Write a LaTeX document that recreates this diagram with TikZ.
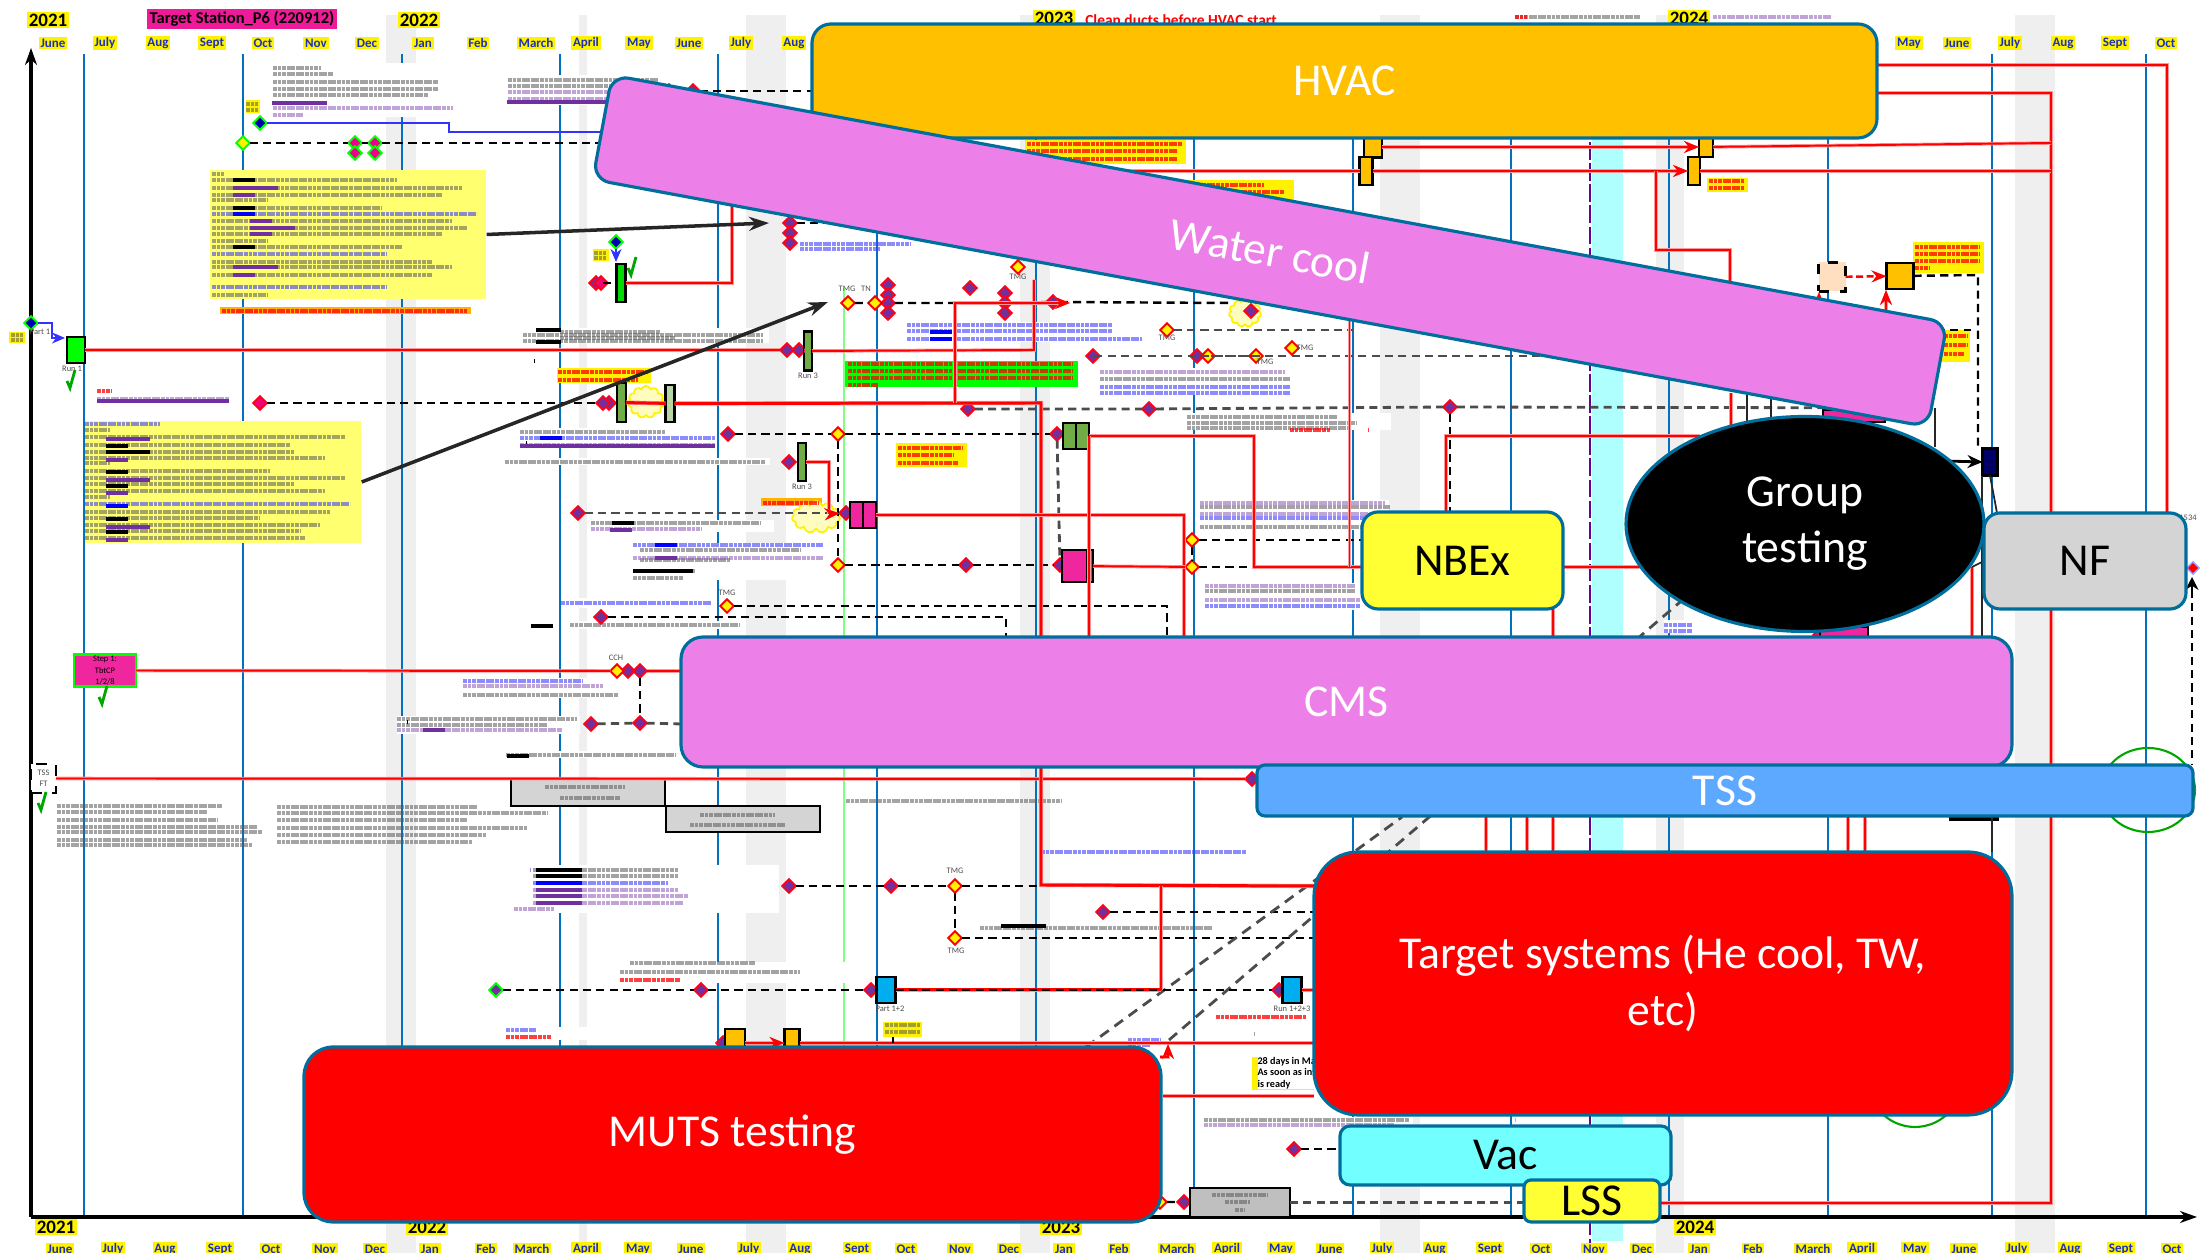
\documentclass[tikz,border=0pt]{standalone}
\usepackage{fontspec}
\setmainfont{Carlito}
\usetikzlibrary{arrows.meta,shapes.geometric,shapes.symbols}
\pgfdeclarelayer{front}
\pgfsetlayers{main,front}
\definecolor{boxline}{HTML}{006E9C}
\definecolor{boxviolet}{HTML}{EC80E8}
\definecolor{boxgold}{HTML}{FFC000}
\definecolor{boxblue}{HTML}{5DA9FF}
\definecolor{boxcyan}{HTML}{72FFFF}
\definecolor{boxyellow}{HTML}{FFFF33}
\definecolor{boxgray}{HTML}{D4D4D4}
\definecolor{bandgray}{HTML}{EFEFEF}
\definecolor{bandcyan}{HTML}{B0FFFF}
\definecolor{gridblue}{HTML}{0070C0}
\definecolor{monthblue}{HTML}{1A2FC0}
\definecolor{barpurple}{HTML}{7030A0}
\definecolor{notepale}{HTML}{FFFF70}
\definecolor{olive}{HTML}{70AD47}
\tikzset{
  bigbox/.style={draw=boxline,line width=.9pt,inner sep=0pt,outer sep=0pt,align=center,font=\fontsize{13}{16}\selectfont},
  monthlab/.style={fill=yellow,text=monthblue,inner sep=.5pt,font=\fontsize{3.7}{4}\selectfont\bfseries},
  yearlab/.style={fill=yellow,inner sep=.6pt,font=\fontsize{5.4}{6}\selectfont\bfseries},
  tinylab/.style={inner sep=0pt,text=black!70,align=center,font=\fontsize{2.4}{3.2}\selectfont},
  ms/.style={diamond,minimum size=1.35mm,inner sep=0pt,outer sep=0pt,line width=.55pt},
  msp/.style={ms,draw=red!90!magenta,fill=barpurple},
  msy/.style={ms,draw=red,fill=yellow},
  msk/.style={ms,draw=red!90!magenta,fill=magenta!80!red},
  msb/.style={ms,draw=green,fill=blue!70!black},
  msg/.style={ms,draw=green,fill=magenta},
  msn/.style={ms,draw=green,fill=yellow},
  msv/.style={ms,draw=green,fill=barpurple},
  chip/.style={draw=black,line width=.7pt,inner sep=0pt,outer sep=0pt},
  dashline/.style={black,line width=.7pt,dash pattern=on 2.3pt off 1.5pt},
  dashgray/.style={black!70,line width=.8pt,dash pattern=on 2.3pt off 1.5pt},
  dashthin/.style={black,line width=.45pt,dash pattern=on 2.3pt off 1.5pt},
  redline/.style={red,line width=.55pt,preaction={draw,red!40,line width=1pt}},
  redthick/.style={red,line width=.85pt,preaction={draw,red!40,line width=1.2pt}},
  blueline/.style={blue!80,line width=.7pt},
  blackline/.style={black!85,line width=.5pt},
  longarrow/.style={black!85,line width=1pt,-{Stealth[length=2mm,width=1.4mm]}},
  redtip/.style={-{Stealth[length=1.5mm,width=1.2mm]}},
  gridline/.style={gridblue,line width=.45pt},
  axisline/.style={black,line width=1pt,-{Stealth[length=1.7mm,width=1.2mm]}},
  blobgray/.style={black!65,opacity=.55,line width=.9pt,dash pattern=on 1.1pt off .2pt},
  blobblue/.style={blue!75!white,opacity=.6,line width=.9pt,dash pattern=on 1.1pt off .2pt},
  blobpurple/.style={barpurple!80!white,opacity=.55,line width=.9pt,dash pattern=on 1.1pt off .2pt},
  blobred/.style={red,opacity=.75,line width=.9pt,dash pattern=on 1.1pt off .2pt},
  tickmark/.style={green!65!black,line width=.8pt},
  pale/.style={draw=yellow,fill=yellow!25,cloud,cloud puffs=11,inner sep=0pt,line width=.5pt}
}
\begin{document}
\begin{tikzpicture}[x=0.1mm,y=-0.1mm]
\useasboundingbox (0,0) rectangle (2202,1253);
\begin{pgfonlayer}{front}
  \node[bigbox,fill=boxgold,text=white,rounded corners=1.9mm,minimum width=106.5mm,minimum height=11.4mm] (hvac) at (1344.5,81) {HVAC};
  \node[bigbox,fill=boxviolet,text=white,rounded corners=1.7mm,rotate=-10.5,minimum width=135.8mm,minimum height=10.6mm] (watercool) at (1270,251) {Water cool};
  \node[bigbox,ellipse,fill=black,text=white,minimum width=35.8mm,minimum height=21.5mm] (grouptest) at (1805,524) {Group\\testing};
  \node[bigbox,fill=boxgray,rounded corners=1.6mm,minimum width=20.2mm,minimum height=9.6mm] (nf) at (2085,561) {NF};
  \node[bigbox,fill=boxyellow,rounded corners=1.6mm,minimum width=20.1mm,minimum height=9.7mm] (nbex) at (1462.5,560.5) {NBEx};
  \node[bigbox,fill=boxviolet,text=white,rounded corners=2.2mm,minimum width=133.1mm,minimum height=13mm] (cms) at (1346.5,702) {CMS};
  \node[bigbox,fill=boxblue,text=white,rounded corners=.8mm,minimum width=93.6mm,minimum height=5.1mm] (tss) at (1725,790.5) {TSS};
  \node[bigbox,fill=red,text=white,rounded corners=4.4mm,minimum width=69.8mm,minimum height=26.3mm] (targetsys) at (1663,983.5) {Target systems (He cool, TW,\\etc)};
  \node[bigbox,fill=red,text=white,rounded corners=2.9mm,minimum width=85.7mm,minimum height=17.5mm] (muts) at (732.5,1134.5) {MUTS testing};
  \node[bigbox,fill=boxcyan,rounded corners=1mm,minimum width=33.1mm,minimum height=5.9mm] (vac) at (1505.5,1155.5) {Vac};
  \node[bigbox,fill=boxyellow,rounded corners=.7mm,minimum width=13.6mm,minimum height=4.2mm] (lss) at (1592,1201) {LSS};
\end{pgfonlayer}
\foreach \x/\w in {386/30,579/8,746/40,1020/30,1380/40,1656/28,2015/40}
  \fill[bandgray] (\x,15) rectangle ++(\w,1238);
\fill[bandcyan] (1592,100) rectangle (1623,1241);
\foreach \x in {84,243,402,560,718,877,1036,1194,1353,1511,1669,1828,1992,2146}
  \draw[gridline] (\x,54) -- (\x,1217);
\draw[green!50,line width=.8pt] (844,288) -- (844,1047);
\draw[violet!80!blue,line width=.8pt,dash pattern=on 5pt off 1pt] (1590,100) -- (1590,1246);
\foreach \m/\x in {June/53,July/105,Aug/158,Sept/212,Oct/263,Nov/316,Dec/367,Jan/423,Feb/478,March/536,April/586,May/639,June/689,July/741,Aug/794,May/1909,June/1957,July/2010,Aug/2063,Sept/2115,Oct/2166}
  \node[monthlab] (top\x) at (\x,43) {\m};
\foreach \m/\x in {June/60,July/113,Aug/165,Sept/220,Oct/271,Nov/325,Dec/375,Jan/430,Feb/486,March/532,April/586,May/638,June/691,July/749,Aug/800,Sept/857,Oct/906,Nov/960,Dec/1009,Jan/1064,Feb/1119,March/1177,April/1227,May/1281,June/1330,July/1382,Aug/1435,Sept/1490,Oct/1541,Nov/1594,Dec/1642,Jan/1699,Feb/1753,March/1813,April/1862,May/1915,June/1964,July/2017,Aug/2070,Sept/2121,Oct/2172}
  \node[monthlab] (bot\x) at (\x,1249) {\m};
\foreach \y/\x/\v in {t21/48/20,t22/419/20,t23/1054/18,t24/1689/18,b21/56/1227,b22/427/1227,b23/1061/1227,b24/1695/1227}
  \node[yearlab] (year\y) at (\x,\v) {20\ifnum\v<100 \ifnum\x<100 21\else\ifnum\x<500 22\else\ifnum\x<1500 23\else 24\fi\fi\fi\else\ifnum\x<100 21\else\ifnum\x<500 22\else\ifnum\x<1500 23\else 24\fi\fi\fi\fi};
\node[fill=magenta!90!white,inner sep=.8pt,font=\fontsize{4.7}{5}\selectfont\bfseries] (title) at (242,19) {Target Station\_P6 (220912)};
\node[text=red,inner sep=0pt,font=\fontsize{4.4}{5}\selectfont\bfseries] (cleanducts) at (1181,20) {Clean ducts before HVAC start};
\coordinate (origin) at (31,1217);
\coordinate (ytop) at (31,48);
\coordinate (xend) at (2197,1217);
\draw[axisline] (origin) -- (ytop);
\draw[axisline] (origin) -- (xend);
\draw[green!65!black,line width=.6pt] (2148,790) ellipse (47 and 42);
\draw[green!65!black,line width=.6pt] (1915,1080) ellipse (47 and 47);
\foreach \a/\b/\c/\d in {272/63/462/117,507/75/664/105,520/328/769/343,520/428/711/448,505/458/770/465,591/520/774/532,633/543/828/580,561/598/714/608,570/621/743/629,463/678/622/698,397/716/580/734,506/751/680/758,907/322/1151/342,1100/368/1297/395,1187/413/1391/430,1200/500/1389/530,1205/583/1363/610,514/865/779/913,620/962/850/983,506/1027/717/1040,1204/1117/1413/1128,1664/620/1693/633}
  \fill[white] (\a,\b) rectangle (\c,\d);
\node[fill=notepale,minimum width=27.6mm,minimum height=12.9mm,inner sep=0pt] (noteyone) at (348,234.5) {};
\node[fill=notepale,minimum width=27.6mm,minimum height=12.2mm,inner sep=0pt] (noteytwo) at (223,482) {};
\foreach \n/\x/\y/\w/\h in {ytaga/253/106.5/1.4/1.3,ytagb/601/255/1.6/1.2,ytagc/17/337.5/1.6/1.1,ytagd/604/375.5/9.4/1.5,ytage/931.5/455/7.1/2.4,ytagf/902.5/1029.5/3.9/1.5,ytagg/1283/1073.5/6.2/3.3,ytagh/1105.5/152/16.1/2.4,ytagi/1238/193.5/11.2/2.7,ytagj/1727.5/185/4.1/1.4,ytagk/1948.5/257.5/7.1/3.1,ytagl/1956/346/2.8/3.2}
  \node[fill=yellow,minimum width=\w mm,minimum height=\h mm,inner sep=0pt] (\n) at (\x,\y) {};
\node[fill=orange!60!yellow,minimum width=25.1mm,minimum height=.7mm,inner sep=0pt] (ytagm) at (345.5,311) {};
\node[fill=orange!60!yellow,minimum width=6.1mm,minimum height=.8mm,inner sep=0pt] (ytagn) at (791.5,502.5) {};
\node[fill=green,minimum width=23.3mm,minimum height=2.6mm,inner sep=0pt] (notegreen) at (961.5,374) {};
\node[pale,minimum width=3.6mm,minimum height=3.2mm] (cloudone) at (646,402) {};
\node[pale,minimum width=4.8mm,minimum height=3.2mm] (cloudtwo) at (816,517) {};
\node[pale,minimum width=3.2mm,minimum height=2.8mm] (cloudthree) at (1245,313) {};
\foreach \x/\y/\w in {273/68/48,273/74/60,273/82/165,273/89/165,273/95/155,508/80/150,508/86/120,523/335/240,523/341/240,520/432/145,505/462/260,591/523/170,640/550/160,640/560/90,633/571/62,633/578/50,570/625/170,463/695/155,397/719/180,397/725/150,506/755/170,57/806/165,57/812/150,57/820/160,57/827/200,57/832/205,57/840/190,57/845/195,277/807/200,277/813/270,277/820/190,277/828/250,277/835/210,277/842/195,846/801/215,1100/379/190,1187/417/150,1187/423/170,1187/428/160,1200/507/190,1200/527/185,1205/591/150,533/870/145,533/876/145,980/928/232,630/963/125,620/972/180,1204/1120/205,2000/600/1,1515/17/125,560/332/100,560/338/115}
  \draw[blobgray] (\x,\y) -- ++(\w,0);
\foreach \x/\y/\w in {212/174/12,212/180/185,212/188/250,212/195/230,212/200/55,212/208/170,212/221/240,212/228/255,212/234/230,212/241/55,212/247/190,212/262/220,212/267/240,212/275/220,212/295/55,85/430/25,85/437/260,85/445/205,85/452/210,85/458/240,85/463/25,85/471/185,85/478/260,85/484/210,85/491/240,85/497/25,85/512/245,85/518/175,85/525/235,85/531/215,85/538/220,246/104/12,246/110/12,594/253/12,594/258/12,11/335/12,11/340/12,1254/1034/1,545/787/80,560/798/60,700/815/75,690/825/95,1212/1195/55,1225/1202/25,1235/1210/10,885/1025/35,885/1032/35}
  \draw[blobgray] (\x,\y) -- ++(\w,0);
\foreach \x/\y/\w in {212/214/265,212/254/175,212/287/175,85/424/75,85/504/265,520/438/195,633/545/190,561/603/150,463/681/120,907/325/205,907/331/205,907/339/235,1100/387/190,1100/393/190,1200/518/180,1205/606/155,1041/852/205,1128/1040/33,1128/1045/22,530/870/1,533/883/135,1664/625/28,1664/631/28,506/1030/30,800/244/110,800/249/80}
  \draw[blobblue] (\x,\y) -- ++(\w,0);
\foreach \x/\y/\w in {273/108/180,273/115/30,508/92/100,508/99/100,97/399/132,520/445/195,591/529/110,633/558/190,463/686/140,397/730/165,1100/372/185,1200/503/185,1200/514/170,1205/586/150,1205/600/155,533/890/145,533/896/155,533/903/150,514/909/40,1515/1120/1,1713/17/118,1204/1125/190}
  \draw[blobpurple] (\x,\y) -- ++(\w,0);
\foreach \x/\y/\w in {97/391/15,222/311/245,558/372/90,558/380/80,898/448/65,898/455/55,898/463/60,763/503/55,1027/144/155,1027/151/150,1027/159/150,1184/185/80,1184/192/100,1184/200/100,1709/181/35,1709/188/35,1915/247/65,1915/254/65,1915/261/65,1915/268/15,1944/336/24,1944/345/24,1944/354/20,848/364/225,848/371/225,848/378/225,848/385/30,620/980/60,506/1037/45,1216/1017/90,1515/17/12,1368/430/1,1290/430/40}
  \draw[blobred] (\x,\y) -- ++(\w,0);
\foreach \x/\y/\w in {233/180/22,233/208/22,233/247/22,106/446/22,106/452/44,106/472/22,106/486/22,106/519/22,106/532/22,536/330/25,536/342/25,534/361/1,536/870/46,536/876/46,526/443/1,1001/926/45,1114/1118/25,612/523/22,633/571/60,507/756/22,531/626/22,407/722/1}
  \draw[black,line width=1.3pt] (\x,\y) -- ++(\w,0);
\foreach \x/\y/\w in {272/103/55,507/102/190,97/401/132,233/188/45,233/195/22,250/221/22,250/228/45,250/234/22,233/267/45,233/275/22,106/439/44,106/460/22,106/480/44,106/493/22,106/527/44,106/540/22,520/446/195,610/530/22,655/558/22,423/730/22,536/890/46,536/896/46,536/903/46,1134/1126/25}
  \draw[barpurple,line width=1.3pt] (\x,\y) -- ++(\w,0);
\foreach \x/\y/\w in {233/214/22,106/506/22,540/438/22,655/545/22,930/332/22,930/339/22,536/883/46}
  \draw[blue,line width=1.3pt] (\x,\y) -- ++(\w,0);
\foreach \n/\x/\y in {aone/693/91,bone/790/223,btwo/790/233,bthree/790/243,cone/596/283,done/787/350,dtwo/799/350,eone/609/403,etwo/603/403,fone/728/434,gone/789/462,hone/578/513,htwo/846/513,ione/1053/302,itwo/888/285,ithree/888/295,ifour/888/303,ifive/888/313,isix/970/288,iseven/1005/293,ieight/1005/303,inine/1005/313,jone/968/409,jtwo/1149/409,jthree/1450/407,kone/1093/356,ktwo/1197/356,lone/966/565,ltwo/1060/565,lthree/1057/434,mone/601/617,ntwo/628/671,nthree/640/671,nfour/640/723,nfive/591/724,oone/1252/779,pone/789/886,ptwo/891/886,pthree/1103/912,qone/701/990,qtwo/871/990,qthree/1279/990,rone/723/1043,sone/1294/1149,stwo/1184/1202,wone/1251/311}
  \node[msp] (\n) at (\x,\y) {};
\foreach \n/\x/\y in {yone/848/303,ytwo/875/303,ythree/1018/267,yfour/1167/330,yfive/1208/356,ysix/1256/356,yseven/1292/348,yeight/838/434,ynine/838/565,yten/1192/540,yeleven/1192/567,ytwelve/727/606,ythirteen/617/671,yfourteen/955/886,yfifteen/955/938,ysixteen/1160/1202}
  \node[msy] (\n) at (\x,\y) {};
\node[msk] (atwo) at (669,91) {};
\node[msk] (kone) at (260,403) {};
\node[msk] (pinkb) at (601,283) {};
\node[msb] (blueone) at (260,123) {};
\node[msb] (bluetwo) at (616,242) {};
\node[msb] (bluethree) at (31,323) {};
\node[msn] (lineone) at (243,143) {};
\node[msg] (gmone) at (355,143) {};
\node[msg] (gmtwo) at (355,153) {};
\node[msg] (gmthree) at (375,143) {};
\node[msg] (gmfour) at (375,153) {};
\node[msv] (partstart) at (496,990) {};
\node[red,fill=red,diamond,minimum size=1.3mm,inner sep=0pt,draw=blue!40] (nfmark) at (2193,568) {};
\node[msk] (jfour) at (1820,635) {};
\foreach \n/\c/\x/\y/\w/\h in {runone/green/76/350/1.8/2.6,barone/green!85!black/621/283/.9/3.8,barthree/olive/808/351/.8/3.9,bartwo/olive/621.5/402.5/.9/3.9,barfour/olive!50/670/403.5/.9/3.7,barfive/olive/802/462/.8/3.8,olivebox/olive/1076/436/2.6/2.6,magone/magenta!85/863/515/2.6/2.6,magtwo/magenta!85/1077.5/566/3.1/3.2,tealone/cyan/886/990/1.9/2.6,tealtwo/cyan/1292/990/1.9/2.6,amone/boxgold/735/1038/2/1.8,amtwo/boxgold/792/1038/1.5/1.8,amthree/boxgold/1373/147/1.8/2.1,amfour/boxgold/1366/171/1.3/2.8,amfive/boxgold/1706/147/1.4/2/,amsix/boxgold/1694/171/1.2/2.8,amseven/boxgold/1900/276/2.7/2.6,magthree/magenta!85/1854/416/6.2/1.2,magfour/magenta!85/1844/632/4.8/1,navybox/blue!40!black/1990/462/1.5/2.7,blackbit/white/1974/818/4.8/.3,tealbit/cyan/1326/212/1.7/.5}
  \node[chip,fill=\c,minimum width=\w mm,minimum height=\h mm] (\n) at (\x,\y) {};
\draw[chip] (olivebox.north) -- (olivebox.south);
\draw[chip] (magone.north) -- (magone.south);
\draw[chip] ([xshift=1mm]magtwo.north) -- ([xshift=1mm]magtwo.south);
\node[chip,fill=orange!25,dashed,minimum width=2.7mm,minimum height=2.9mm] (beige) at (1832,277) {};
\node[chip,draw=green,fill=magenta!85,minimum width=6.2mm,minimum height=3.2mm,tinylab,text=black] (stepone) at (105,670.5) {Step 1:\\TbtCP\\1/2/8};
\node[chip,dashed,fill=white,minimum width=2.5mm,minimum height=2.9mm,tinylab] (tssft) at (43.5,778.5) {TSS\\FT};
\node[chip,fill=boxgray,minimum width=15.4mm,minimum height=2.7mm] (grayone) at (588,792.5) {};
\node[chip,fill=boxgray,minimum width=15.4mm,minimum height=2.6mm] (graytwo) at (743,819) {};
\node[chip,fill=black!25,minimum width=10mm,minimum height=2.9mm] (graythree) at (1240,1202.5) {};
\foreach \x/\y/\w in {545/787/80,560/798/60,700/815/75,690/825/95,1212/1195/55,1225/1202/25,1235/1210/10}
  \draw[blobgray] (\x,\y) -- ++(\w,0);
\foreach \n/\x/\y/\t in {lrunone/72/369/Run 1,lpartone/40/332/Part 1,lrunthree/808/376/Run 3,lrunfour/802/487/Run 3,ltmga/847/289/TMG,ltn/866/289/TN,ltmgb/727/593/TMG,lcch/616/658/CCH,ltmgc/955/871/TMG,ltmgd/956/951/TMG,lparttwo/890/1009/Part 1+2,lrunsix/1292/1009/Run 1+2+3,ltmge/1167/338/TMG,ltmgf/1305/348/TMG,ltmgg/1265/362/TMG,ltmgh/1018/277/TMG,lnf/2188/518/1534}
  \node[tinylab] (\n) at (\x,\y) {\t};
\foreach \x/\y in {71/379,103/695,42/801,632/266}
  \draw[tickmark] (\x-4,\y+2) -- (\x-1,\y+9) -- (\x+4,\y-9);
\foreach \n/\x/\y in {cblue/640/132,cdash/640/143,cbdash/900/223,cdashr/812/91,cup/1034/280,cupb/732/190,carrow/1070/303,cdashc/1230/303,cgray/1353/330,cgrayb/1540/356,cj/1935/408,cjb/1935/447,cmsa/1041/637,cmsb/1184/637,cmsc/1089/637,cmsd/1167/637,cmse/1006/637,cnba/1362/567,cnbb/1362/540,cnbc/1450/512,ctriga/1314/886,ctrigb/1314/912,ctrigc/1314/938,ctrigd/1314/1043,ctrige/1314/1096,ctrigf/1314/990,cmid/1161/886,cyone/769/223,cytwo/828/302,chua/1877/65,chub/1877/93,clow/1100/171,cmsf/682/724,cmsg/682/671,cmsh/1252/779}
  \coordinate (\n) at (\x,\y);
\draw[blueline] (blueone) -- (449,123) -- (449,132) -- (cblue);
\draw[blueline,-{Stealth[length=1.3mm,width=1.1mm]}] (bluethree) -- (52,323) -- (52,338) -- (65,338);
\draw[blueline,-{Stealth[length=1.3mm,width=1.1mm]}] (bluetwo) -- (616,262);
\draw[dashline] (lineone) -- (gmone) -- (gmthree) -- (cdash);
\draw[dashline] (atwo) -- (aone) -- (cdashr);
\draw[dashline] (bone) -- (cbdash);
\draw[dashline] (kone) -- (etwo);
\draw[dashline] (cone) -- (barone);
\draw[dashline] (yone) -- (ytwo) -- (ifour) -- (ieight) -- (ione) -- (cdashc);
\draw[dashgray] (yfour) -- (cgray);
\draw[dashline] (kone |- kone) -- (kone);
\draw[dashgray] (cgrayb) -- (ktwo) -- (yfive) -- (ysix) -- (1093,356);
\draw[dashgray] (jone) -- (jtwo) -- (jthree) -- (cj);
\draw[blackline] (cj) -- (cjb);
\draw[dashthin] (jthree) -- (cnbc);
\draw[dashline] (fone) -- (yeight) -- (lthree);
\draw[dashline] (yeight) -- (ynine) -- (lone) -- (ltwo);
\draw[dashgray] (lthree) -- (ltwo);
\draw[dashgray] (hone) -- (htwo);
\draw[dashline] (yten) -- (cnbb);
\draw[dashline] (yeleven) -- (cnba);
\draw[dashthin] (yten) -- (yeleven);
\draw[dashline] (ytwelve) -- (1167,606) -- (cmsd);
\draw[dashline] (mone) -- (1006,617) -- (cmse);
\draw[dashthin] (nthree) -- (nfour);
\draw[dashgray] (nfive) -- (nfour) -- (cmsf);
\draw[dashline] (pone) -- (ptwo) -- (yfourteen) -- (ctriga);
\draw[dashthin] (yfourteen) -- (yfifteen);
\draw[dashline] (yfifteen) -- (ctrigc);
\draw[dashline] (pthree) -- (ctrigb);
\draw[dashline] (partstart) -- (qone) -- (qtwo);
\draw[dashgray,dash pattern=on 3pt off 2pt] (1086,1047) -- (1402,817);
\draw[dashgray,dash pattern=on 3pt off 2pt] (1169,1040) -- (1700,585);
\draw[dashline] (sone) -- (sone -| vac.west);
\draw[dashline] (ysixteen) -- (stwo) -- (graythree);
\draw[dashgray] (graythree) -- (graythree -| lss.west);
\draw[dashline] (amseven) -- (1978,275) -- (1978,448);
\draw[dashline] (1937,330) -- (1971,330);
\draw[dashline] (2192,590) -- (2192,765);
\draw[red,dash pattern=on 2pt off 1pt,line width=.7pt,redtip] (beige) -- (amseven);
\draw[redline] (runone) -- (done);
\draw[redline] (dtwo) -- (barthree);
\draw[redline] (barthree) -- (1034,350) -- (cup);
\draw[redline] (barone) -- (732,283) -- (cupb);
\draw[redthick] (bartwo) -- (barfour) -- (1041,403) -- (cmsa);
\draw[redline,redtip] (955,403) -- (955,303) -- (carrow);
\draw[redline] (barfive) -- (829,462) -- (829,514);
\draw[redline,redtip] (829,514) -- (htwo);
\draw[redline] (magone) -- (1184,515) -- (cmsb);
\draw[redline] (olivebox) -- (1254,436) -- (1254,567) -- (cnba);
\draw[redline] (1089,436) -- (cmsc);
\draw[redline] (magtwo) -- (yeleven);
\draw[redline] (1349.5,320) -- (1349.5,567);
\draw[redline] (1446,512) -- (1446,436) -- (1700,436);
\draw[redline] (1563,567) -- (1640,567);
\draw[redline] (1553,609) -- (1553,637);
\draw[redline] (1972,567) -- (1972,637);
\draw[redline] (chua) -- (2167,65) -- (2167,513);
\draw[redline] (chub) -- (2051,93) -- (2051,1203) -- (lss.east |- 0,1203);
\draw[redline,redtip] (amthree) -- (amfive);
\draw[redline] (amfive) -- (2051,143);
\draw[redline,redtip] (clow) -- (amfour) -- (amsix);
\draw[redline] (amsix) -- (2051,171);
\draw[redline] (1656,171) -- (1656,250) -- (1730,250) -- (1730,290);
\draw[redline] (1731,393) -- (1731,436);
\draw[redline,redtip] (1886,318) -- (1886,290);
\draw[redline,redtip] (1819,303) -- (1819,292);
\draw[redline] (stepone) -- (ythirteen);
\draw[redline] (nthree) -- (cmsg);
\draw[redline] (tssft) -- (oone);
\draw[redthick] (1041,767) -- (1041,885) -- (ctriga);
\draw[redline] (cmid) -- (1161,990);
\draw[redthick] (tealone) -- (1161,990);
\draw[dashline] (tealone) -- (qthree);
\draw[redline] (tealtwo) -- (ctrigf);
\draw[redline,redtip] (amone.east |- rone) -- (amtwo.west |- rone);
\draw[redline] (amtwo.east |- rone) -- (ctrigd);
\draw[redline,redtip] (1160,1057) -- (1168,1057) -- (1168,1044);
\draw[redline] (1163,1096) -- (ctrige);
\foreach \x in {1486,1527,1553,1848,1865}
  \draw[redline] (\x,816) -- (\x,852);
\draw[black,line width=.8pt] (893,1037) -- (893,1043);
\draw[blackline] (1992,816) -- (1992,852);
\draw[blackline] (1747,393) -- (1747,430);
\draw[blackline] (1771,393) -- (1771,430);
\draw[blackline] (navybox.south) -- (1997,513);
\draw[blackline] (1982,476) -- (1982,637);
\draw[blackline] (1972,567) -- (nf.west);
\draw[black,line width=.8pt,-{Stealth[length=1.5mm,width=1.3mm]}] (1945,461) -- (navybox.west);
\draw[black,-{Stealth[length=1.3mm,width=1.3mm]}] (2192,590) -- (2192,577);
\draw[longarrow] (noteyone.east) -- (cyone);
\draw[longarrow] (noteytwo.east) -- (cytwo);
\node[fill=notepale!0,inner sep=0pt,align=left,font=\fontsize{2.9}{3.2}\selectfont\bfseries] (daysnote) at (1290,1073) {28 days in May,\\As soon as inst\\is ready};
\end{tikzpicture}
\end{document}
